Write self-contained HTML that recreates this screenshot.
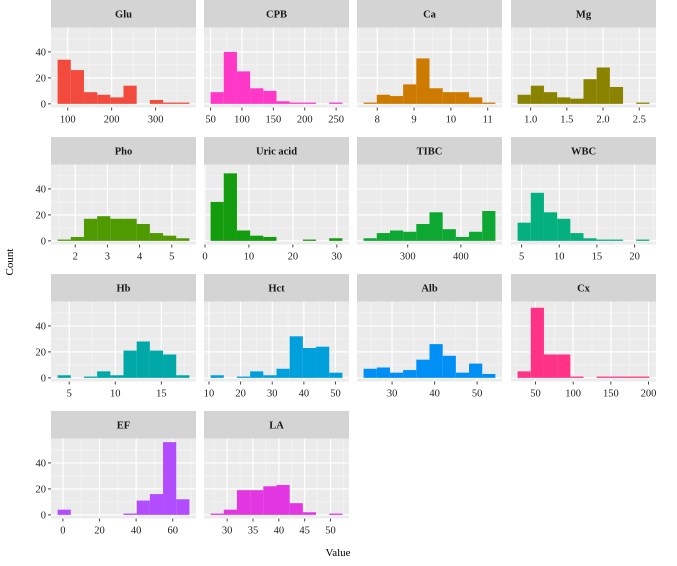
<!DOCTYPE html>
<html><head><meta charset="utf-8">
<style>
body{margin:0;background:#fff;}
svg{display:block;}
svg text{font-family:"Liberation Serif","Times New Roman",serif;}
</style></head>
<body>
<svg id="chart" width="677" height="566" viewBox="0 0 677 566" xmlns="http://www.w3.org/2000/svg" font-family="Liberation Serif, serif">
<text x="338" y="556" font-size="11" text-anchor="middle" fill="#000">Value</text>
<text transform="translate(13,262) rotate(-90)" font-size="11" text-anchor="middle" fill="#000">Count</text>
</svg>
<script>
const panelNames = ["Glu","CPB","Ca","Mg","Pho","Uric acid","TIBC","WBC","Hb","Hct","Alb","Cx","EF","LA"];
const binStarts = [77,50,7.63,0.82,1.45,1.28,217,4.47,3.74,10.5,23.3,26.2,-2.9,26.8];
const binWidths = [30,21,0.358,0.182,0.41,3.0,24.8,1.75,1.43,4.17,3.1,17.5,7.2,2.55];
const countsGlu = [34,26,9,7,5,14,0,3,1,1];
const countsCPB = [9,40,25,12,10,2,1,1,0,1];
const countsCa = [1,7,6,15,35,12,9,9,5,1];
const countsMg = [7,14,9,5,4,19,28,13,0,1];
const countsPho = [1,3,17,19,17,17,13,6,4,2];
const countsUric = [30,52,8,4,3,0,0,1,0,2];
const countsTIBC = [2,6,8,7,13,22,9,3,7,23];
const countsWBC = [14,37,22,17,6,2,1,1,0,1];
const countsHb = [2,0,1,5,2,21,28,21,18,2];
const countsHct = [2,0,1,5,2,7,32,23,24,4];
const countsAlb = [7,8,4,6,14,26,17,4,11,3];
const countsCx = [5,54,18,18,1,0,1,1,1,1];
const countsEF = [4,0,0,0,0,1,11,16,56,12];
const countsLA = [1,4,19,19,22,23,9,2,0,1];
const allCounts = [countsGlu,countsCPB,countsCa,countsMg,countsPho,countsUric,countsTIBC,countsWBC,countsHb,countsHct,countsAlb,countsCx,countsEF,countsLA];
const xTicks = [[100,200,300],[50,100,150,200,250],[8,9,10,11],[1.0,1.5,2.0,2.5],[2,3,4,5],[0,10,20,30],[300,400],[5,10,15,20],[5,10,15],[10,20,30,40,50],[30,40,50],[50,100,150,200],[0,20,40,60],[30,35,40,45,50]];
const xTickLabels = [["100","200","300"],["50","100","150","200","250"],["8","9","10","11"],["1.0","1.5","2.0","2.5"],["2","3","4","5"],["0","10","20","30"],["300","400"],["5","10","15","20"],["5","10","15"],["10","20","30","40","50"],["30","40","50"],["50","100","150","200"],["0","20","40","60"],["30","35","40","45","50"]];
const yTicks = [0,20,40];
const yTickLabels = ["0","20","40"];
const colors = ["#F24B3E","#FF38C8","#CC7A00","#8A8300","#4E9A00","#139C0E","#0CA831","#05B07F","#00A8A8","#00A0DC","#0090F5","#FF3385","#B14CFF","#E236E2"];

const svg = document.getElementById('chart');
const NS = "http://www.w3.org/2000/svg";
function mk(tag, attrs, parent){const e=document.createElementNS(NS,tag);for(const k in attrs)e.setAttribute(k,attrs[k]);(parent||svg).appendChild(e);return e;}
const colX = [51,204,357,511], PW = 145, stripH = 27.5, PH = 80, rowTop = [0,137,274,411];
const yLo = -2.8, yHi = 58.8;

panelNames.forEach((name, i) => {
  const col = i % 4, row = Math.floor(i / 4);
  const x0 = colX[col], top = rowTop[row], py = top + stripH;
  const counts = allCounts[i], n = counts.length, bs = binStarts[i], bw = binWidths[i];
  const span = n * bw, lo = bs - 0.05 * span, hi = bs + span + 0.05 * span;
  const sx = v => x0 + (v - lo) / (hi - lo) * PW;
  const sy = v => py + PH - (v - yLo) / (yHi - yLo) * PH;
  const g = mk('g', {});
  
  
  const strip = mk('rect', {x:x0, y:top, width:PW, height:stripH, fill:'#d4d4d4'}, g);
  
  
  const st = mk('text', {x:x0+PW/2, y:top+17.5, 'font-size':10.5, 'font-weight':'bold', 'text-anchor':'middle', fill:'#1a1a1a'}, g);
  st.textContent = name;
  
  
  const bg = mk('rect', {x:x0, y:py, width:PW, height:PH, fill:'#ebebeb'}, g);
  
  
  const ticks = xTicks[i], step = ticks.length > 1 ? ticks[1] - ticks[0] : 100;
  for (let t = ticks[0] - step / 2; t <= hi; t += step) {
    if (t < lo) continue;
    mk('line', {x1:sx(t), x2:sx(t), y1:py, y2:py+PH, stroke:'#f7f7f7', 'stroke-width':0.6}, g);
  }
  [10,30,50].forEach(v => mk('line', {x1:x0, x2:x0+PW, y1:sy(v), y2:sy(v), stroke:'#f7f7f7', 'stroke-width':0.6}, g));
  ticks.forEach(t => mk('line', {x1:sx(t), x2:sx(t), y1:py, y2:py+PH, stroke:'#fff', 'stroke-width':1.2}, g));
  yTicks.forEach(v => mk('line', {x1:x0, x2:x0+PW, y1:sy(v), y2:sy(v), stroke:'#fff', 'stroke-width':1.2}, g));
  counts.forEach((c, k) => {
    if (c <= 0) return;
    const b = mk('rect', {x:sx(bs + k * bw), y:sy(c), width:sx(bs + (k + 1) * bw) - sx(bs + k * bw), height:sy(0) - sy(c), fill:colors[i]}, g);
    
    
  });
  ticks.forEach((t, k) => {
    mk('line', {x1:sx(t), x2:sx(t), y1:py+PH, y2:py+PH+3, stroke:'#444', 'stroke-width':1}, g);
    const tl = mk('text', {x:sx(t), y:py+PH+15, 'font-size':10.5, 'text-anchor':'middle', fill:'#222'}, g);
    tl.textContent = xTickLabels[i][k];
    
    
  });
  if (col === 0) {
    yTicks.forEach((v, k) => {
      mk('line', {x1:x0-3, x2:x0, y1:sy(v), y2:sy(v), stroke:'#444', 'stroke-width':1}, g);
      const yl = mk('text', {x:x0-5, y:sy(v)+3.5, 'font-size':10.5, 'text-anchor':'end', fill:'#222'}, g);
      yl.textContent = yTickLabels[k];
      
      
    });
  }
});
</script>
</body></html>
